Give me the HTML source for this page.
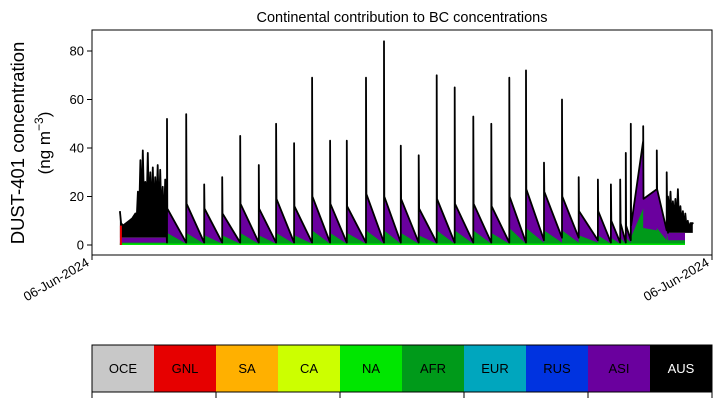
<!DOCTYPE html>
<html><head><meta charset="utf-8"><style>
body{margin:0;background:#fff;}
svg{display:block;font-family:"Liberation Sans","DejaVu Sans",sans-serif;}
</style></head><body>
<svg id="chart" width="721" height="402" viewBox="0 0 721 402">
<text x="402" y="22" font-size="14.5" text-anchor="middle">Continental contribution to BC concentrations</text>
<g id="plot"></g>
<rect x="92" y="30" width="620" height="225" fill="none" stroke="#000" stroke-width="1"/>
<g id="yaxis"></g>
<text transform="translate(24,143) rotate(-90)" font-size="18.5" text-anchor="middle">DUST-401 concentration</text>
<text transform="translate(50,143) rotate(-90)" font-size="17" text-anchor="middle">(ng m<tspan dy="-7" font-size="12">−3</tspan><tspan dy="7">)</tspan></text>
<g>
<line x1="92" y1="255" x2="92" y2="260" stroke="#000"/>
<line x1="712" y1="255" x2="712" y2="260" stroke="#000"/>
<text transform="translate(90,265) rotate(-30)" font-size="13" text-anchor="end">06-Jun-2024</text>
<text transform="translate(710,265) rotate(-30)" font-size="13" text-anchor="end">06-Jun-2024</text>
</g>
<g id="legend"></g>
</svg>
<script>
const NS="http://www.w3.org/2000/svg";
const evT=[12.1,15.2,18.1,21,23.9,26.9,29.7,32.6,35.5,38.4,41.1,44.2,47.1,49.8,52.7,55.6,58.5,61.5,64.4,67.3,70,72.9,75.8,78.5,81.6,83.7,85.2,86.1,86.9,88.9,91.1,92.7];
const peakV=[52,54,25,28,45,33,50,42,69,43,43,69,84,41,37,70,65,53,50,69,72,34,60,28,27,25,27,38,50,49,39,30];
const topV=[15,17,15,13,17,15,19,16,20,17,16,21,20,19,15,19,17,17,16,20,23,22,20,14,14,10,9,8,8,19,23,15];
const endV=[1,1,1,1,1,1,1,1,1,1,1,1,1,1,1,1,1,1,1,1,2,3,3,2,1,1,1,2,43,23,6,5];
const grnTop=[5,5,4,4,5,4,5,4,6,5,5,6,6,5,4,6,6,6,5,7,7,6,6,4,4,3,3,3,3,7,7,5];
const grnEnd=[0.5,0.5,0.5,0.5,0.5,0.5,0.5,0.5,0.5,0.5,0.5,0.5,0.5,0.5,0.5,0.5,0.5,0.5,0.5,0.5,1,1,1,1,0.5,0.5,0.5,1,15,6,2,2];
const endT=100*(685-92)/620;
// noisy early cluster (alternating spikes and dips)
const earlyT=[4.5,4.7,5.0,5.5,6.0,6.5,7.0,7.2,7.4,7.6,7.8,8.0,8.2,8.4,8.6,8.8,9.0,9.2,9.4,9.6,9.8,10.0,10.2,10.4,10.6,10.8,11.0,11.2,11.4,11.6,11.8,12.0];
const earlyV=[14,9,8,9,10,11,13,10,22,12,35,14,39,16,26,15,38,14,30,13,32,12,28,16,33,10,31,12,24,8,27,6];
const yTicks=[0,20,40,60,80];
const lateT=[92.9,93.1,93.3,93.5,93.7,93.9,94.1,94.3,94.5,94.7,94.9,95.1,95.3,95.5,95.7,95.9,96.1,96.3,96.5,96.9];
const lateV=[20,12,22,10,18,11,19,9,23,8,16,9,14,7,13,7,10,6,9,9];
const regions=["OCE","GNL","SA","CA","NA","AFR","EUR","RUS","ASI","AUS"];
const regionColors=["#c8c8c8","#e60000","#ffb000","#ccff00","#00e600","#009a1a","#00a6be","#0033e0","#6a009e","#000000"];
const X=t=>92+t*6.2;
const Y=v=>245-v*2.425;
const plot=document.getElementById('plot');
function mk(tag,attrs,parent){const e=document.createElementNS(NS,tag);for(const k in attrs)e.setAttribute(k,attrs[k]);parent.appendChild(e);return e;}
let pur=[],grn=[],line=[];
for(let i=0;i<earlyT.length;i++){pur.push([earlyT[i],3]);grn.push([earlyT[i],1]);}
for(let i=0;i<evT.length;i++){
  const t1=(i+1<evT.length)?evT[i+1]:lateT[0];
  pur.push([evT[i],topV[i]]);pur.push([t1,endV[i]]);
  grn.push([evT[i],grnTop[i]]);grn.push([t1,grnEnd[i]]);
}
for(let i=0;i<lateT.length;i++){pur.push([lateT[i],5]);grn.push([lateT[i],2]);}
pur.push([endT,5]);grn.push([endT,2]);
const ptsStr=a=>a.map(p=>X(p[0]).toFixed(1)+","+Y(p[1]).toFixed(1)).join(" ");
const t0=earlyT[0];
const eb=earlyT.map((t,i)=>[t,earlyV[i]]).concat(earlyT.map((t,i)=>[t,3]).reverse());
const ef=mk('polygon',{points:ptsStr(eb),fill:'#000'},plot);


const lb=lateT.map((t,i)=>[t,lateV[i]]).concat(lateT.map((t,i)=>[t,5]).reverse());
const lf=mk('polygon',{points:ptsStr(lb),fill:'#000'},plot);


const p1=mk('polygon',{points:ptsStr(pur)+` ${X(endT)},${Y(0)} ${X(t0)},${Y(0)}`,fill:'#6a009e'},plot);


const p2=mk('polygon',{points:ptsStr(grn)+` ${X(endT)},${Y(0)} ${X(t0)},${Y(0)}`,fill:'#009a1a'},plot);


const p3=mk('rect',{x:X(t0),y:Y(0.6),width:X(endT)-X(t0),height:Y(0)-Y(0.6),fill:'#00e600'},plot);


const p4=mk('rect',{x:X(t0),y:Y(8),width:2,height:Y(0)-Y(8),fill:'#e60000'},plot);


for(let i=0;i<earlyT.length;i++){line.push([earlyT[i],earlyV[i]]);}
for(let i=0;i<evT.length;i++){
  const t1=(i+1<evT.length)?evT[i+1]:lateT[0];
  line.push([evT[i],endV[Math.max(0,i-1)]]);line.push([evT[i],peakV[i]]);line.push([evT[i]+0.05,topV[i]]);line.push([t1,endV[i]]);
}
for(let i=0;i<lateT.length;i++){line.push([lateT[i],lateV[i]]);}
line.push([endT,6]);line.push([endT,9]);
const pl=mk('polyline',{points:ptsStr(line),fill:'none',stroke:'#000','stroke-width':1.8,'stroke-linejoin':'round'},plot);


const ya=document.getElementById('yaxis');
yTicks.forEach(v=>{
  const l=mk('line',{x1:87,x2:92,y1:Y(v),y2:Y(v),stroke:'#000'},ya);
  
  
  const t=mk('text',{x:84,y:Y(v)+4.5,'font-size':13,'text-anchor':'end'},ya);
  t.textContent=v;
  
  
});
const lg=document.getElementById('legend');
regions.forEach((r,i)=>{
  const x=92+i*62;
  const rc=mk('rect',{x:x,y:345,width:62,height:47,fill:regionColors[i]},lg);
  
  
  const t=mk('text',{x:x+31,y:373,'font-size':13,'text-anchor':'middle',fill:r==='AUS'?'#fff':'#000'},lg);
  t.textContent=r;
  
  
});
const fr=mk('rect',{x:92,y:345,width:620,height:47,fill:'none',stroke:'#000'},lg);


for(let k=0;k<=5;k++){
  const tk=mk('line',{x1:92+k*124,x2:92+k*124,y1:392,y2:398,stroke:'#000'},lg);
  
  
}
</script>
</body></html>
